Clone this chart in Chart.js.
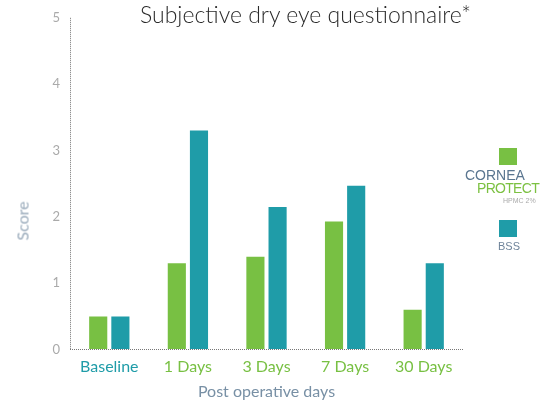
<!DOCTYPE html>
<html>
<head>
<meta charset="utf-8">
<script src="https://cdn.jsdelivr.net/npm/chart.js@4"></script>
<style>
  body { margin: 0; background: #fff; font-family: Lato, sans-serif; }
  #wrap { position: relative; width: 551px; height: 401px; }
  #title { position: absolute; left: 0; width: 611px; top: 0; text-align: center; font-size: 23px; color: #2a2a2a; font-weight: 300; }
  .abs { position: absolute; font-family: "Liberation Sans", sans-serif; white-space: nowrap; line-height: 1; }
  .sw { position: absolute; width: 18px; height: 17px; }
  .cornea { left: 465px; top: 168px; font-size: 14px; color: #5a7690; letter-spacing: 0px; }
  .protect { left: 477px; top: 181px; font-size: 14px; color: #7cc142; letter-spacing: -0.7px; }
  .hpmc { left: 503px; top: 197px; font-size: 7px; color: #aaa; }
  .bss { left: 498px; top: 241px; font-size: 11px; color: #6f849a; }
  #ytitle { position: absolute; left: 22px; top: 221px; transform: translate(-50%, -50%) rotate(-90deg); font-size: 16px; color: #9aabbb; white-space: nowrap; }
</style>
</head>
<body>
<div id="wrap">
  <canvas id="chart" width="551" height="401"></canvas>
  <div id="title">Subjective dry eye questionnaire*</div>
  <div id="ytitle">Score</div>
  <div class="sw" style="left:499px; top:148px; background:#78c043"></div>
  <div class="abs cornea">CORNEA</div>
  <div class="abs protect">PROTECT</div>
  <div class="abs hpmc">HPMC 2%</div>
  <div class="sw" style="left:499px; top:220px; background:#1f9ca8"></div>
  <div class="abs bss">BSS</div>
</div>
<script>
const categories = ['Baseline', '1 Days', '3 Days', '7 Days', '30 Days'];
const corneaProtect = [0.5, 1.3, 1.4, 1.93, 0.6];
const bss = [0.5, 3.3, 2.15, 2.47, 1.3];
const yTicks = [0, 1, 2, 3, 4, 5];

const green = '#78c043';
const teal = '#1f9ca8';
const axisColor = '#777';

new Chart(document.getElementById('chart'), {
    type: 'bar',
    data: {
        labels: categories,
        datasets: [
            { label: 'CORNEA PROTECT HPMC 2%', data: corneaProtect, backgroundColor: green },
            { label: 'BSS', data: bss, backgroundColor: teal }
        ]
    },
    options: {
        responsive: false,
        animation: false,
        layout: { padding: { top: 10, right: 88, left: 0, bottom: 0 } },
        datasets: { bar: { categoryPercentage: 0.564, barPercentage: 0.818 } },
        plugins: { legend: { display: false }, tooltip: { enabled: false } },
        scales: {
            x: {
                // only the left-edge grid line is shown, dotted, as the y axis line
                grid: {
                    offset: true, drawTicks: false,
                    color: ctx => ctx.index === 0 ? axisColor : 'transparent'
                },
                border: { display: false, dash: [1, 1] },
                ticks: {
                    color: ctx => ctx.index === 0 ? teal : green,
                    font: { family: 'Lato', size: 16 },
                    padding: 8
                },
                title: {
                    display: true, text: 'Post operative days', color: '#7890a5',
                    font: { family: 'Lato', size: 16 }, padding: { top: -3, bottom: 0 }
                }
            },
            y: {
                min: 0, max: 5,
                // only the zero grid line is shown, dotted, as the x axis line
                grid: {
                    drawTicks: false,
                    color: ctx => ctx.tick && ctx.tick.value === 0 ? axisColor : 'transparent'
                },
                border: { display: false, dash: [1, 1] },
                afterBuildTicks: axis => { axis.ticks = yTicks.map(v => ({ value: v })); },
                afterFit: axis => { axis.width = 70; },
                ticks: { color: '#aaa', font: { family: 'Lato', size: 13 }, padding: 10 }
            }
        }
    }
});
</script>
</body>
</html>
